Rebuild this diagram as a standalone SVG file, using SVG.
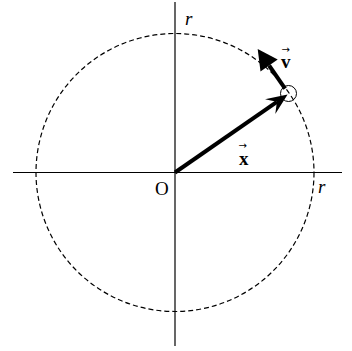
<svg xmlns="http://www.w3.org/2000/svg" width="352" height="351" viewBox="0 0 352 351">
<style>
.axis{stroke:#000;stroke-width:1.2;fill:none}
.orbit{stroke:#000;stroke-width:1.2;fill:none;stroke-dasharray:5 3}
.vec{stroke:#000;stroke-width:4;fill:none}
.head{fill:#000;stroke:none}
.lbl{font-family:"Liberation Serif","Times New Roman",serif;font-size:19px;fill:#000}
.it{font-style:italic}
.bf{font-weight:bold}
.acc{font-family:"DejaVu Sans",sans-serif;font-size:10px;font-weight:normal}
</style>
<rect width="352" height="351" fill="#fff"/>
<g id="axes">
<line class="axis" x1="13" y1="172.5" x2="342" y2="172.5"/>
<line class="axis" x1="175" y1="2" x2="175" y2="346"/>
</g>
<g id="orbit">
<circle class="orbit" cx="175" cy="172.5" r="139"/>
</g>
<g id="connectors">
<line class="vec" x1="175" y1="172.5" x2="276.9" y2="101.8"/>
<path class="head" d="M287.6,94.4 L265.0,99.3 L276.9,101.8 L275.3,114.1 Z"/>
<line class="vec" x1="285.1" y1="88.6" x2="269.1" y2="65.5"/>
<path class="head" d="M257.7,49.1 L277.7,59.5 L260.5,71.5 Z"/>
</g>
<g id="particle">
<circle cx="288.5" cy="93.5" r="8" fill="none" stroke="#000" stroke-width="1"/>
</g>
<g id="labels">
<text class="lbl it" x="185" y="25">r</text>
<text class="lbl it" x="318" y="193">r</text>
<text class="lbl" x="155" y="194.5">O</text>
<text class="lbl bf" x="239" y="165">x<tspan class="acc" x="238.5" y="148.5">→</tspan></text>
<text class="lbl bf" x="281" y="68.3">v<tspan class="acc" x="281.5" y="52.5">→</tspan></text>
</g>
</svg>
